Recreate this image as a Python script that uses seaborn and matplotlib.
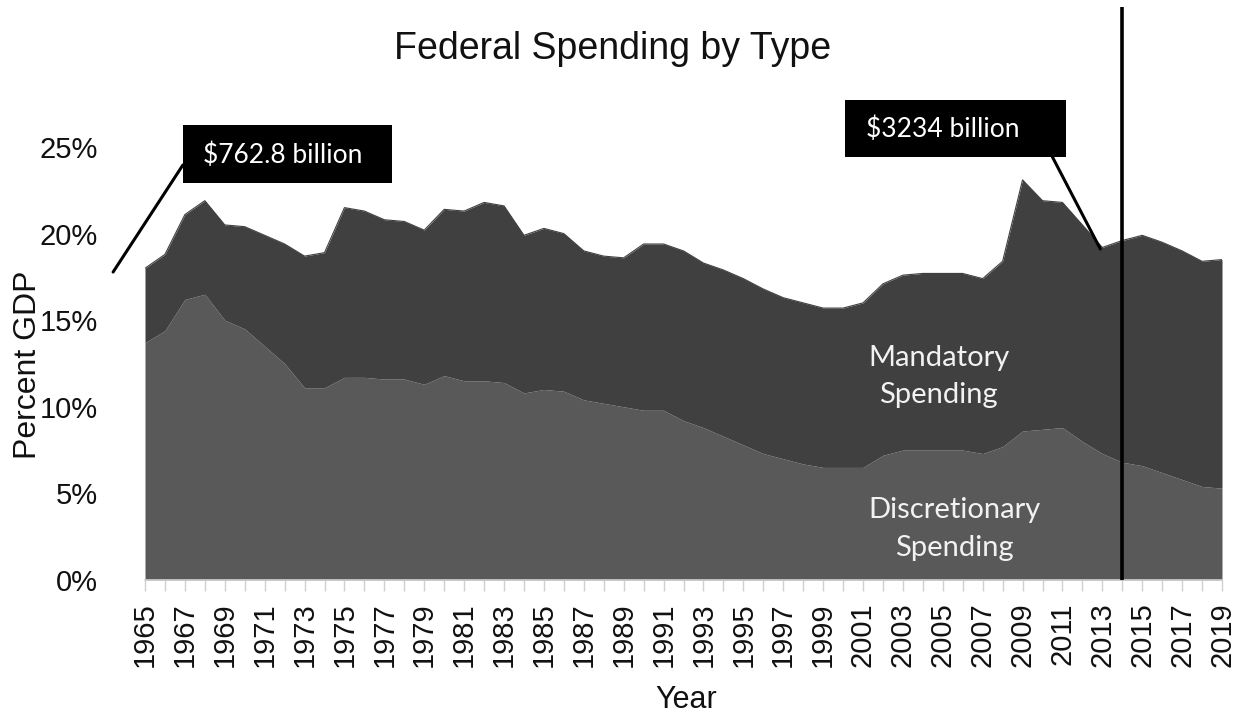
import matplotlib
matplotlib.use("Agg")
import matplotlib.pyplot as plt
from matplotlib.patches import Rectangle
from matplotlib.ticker import FuncFormatter, MultipleLocator, FixedLocator
import numpy as np
import pandas as pd
import seaborn as sns

# Federal outlays as a share of GDP, by spending type
years = list(range(1965, 2020))
discretionary = [
    13.7, 14.4, 16.2, 16.5, 15.0, 14.5, 13.5, 12.5, 11.1, 11.1,
    11.7, 11.7, 11.6, 11.6, 11.3, 11.8, 11.5, 11.5, 11.4, 10.8,
    11.0, 10.9, 10.4, 10.2, 10.0, 9.8, 9.8, 9.2, 8.8, 8.3,
    7.8, 7.3, 7.0, 6.7, 6.5, 6.5, 6.5, 7.2, 7.5, 7.5,
    7.5, 7.5, 7.3, 7.7, 8.6, 8.7, 8.8, 8.0, 7.3, 6.8,
    6.6, 6.2, 5.8, 5.4, 5.3,
]
mandatory = [
    4.3, 4.4, 4.9, 5.4, 5.5, 5.9, 6.4, 6.9, 7.6, 7.8,
    9.8, 9.6, 9.2, 9.1, 8.9, 9.6, 9.8, 10.3, 10.2, 9.1,
    9.3, 9.1, 8.6, 8.5, 8.6, 9.6, 9.6, 9.8, 9.5, 9.6,
    9.6, 9.5, 9.3, 9.3, 9.2, 9.2, 9.5, 9.9, 10.1, 10.2,
    10.2, 10.2, 10.1, 10.7, 14.5, 13.2, 13.0, 12.5, 11.9, 12.8,
    13.3, 13.3, 13.2, 13.0, 13.2,
]
labeled_years = years[::2]
marker_year = 2014
callouts = ["$762.8 billion", "$3234 billion"]

df = pd.DataFrame({"Year": years,
                   "Discretionary": discretionary,
                   "Mandatory": mandatory})
df["Total"] = df["Discretionary"] + df["Mandatory"]

sns.set_theme(style="white")
plt.rcParams["font.family"] = ["Liberation Sans", "DejaVu Sans"]

C_DISC = "#595959"
C_MAND = "#404040"

fig = plt.figure(figsize=(12.44, 7.17), dpi=100)
ax = fig.add_axes([145 / 1244, 1 - 580 / 717, (1222 - 145) / 1244, (580 - 147) / 717])

ax.stackplot(df["Year"], df["Discretionary"], df["Mandatory"],
             colors=[C_DISC, C_MAND], linewidth=0)
sns.lineplot(data=df, x="Year", y="Total", ax=ax, color=C_MAND, linewidth=0.8)

ax.set_xlim(1965, 2019)
ax.set_ylim(0, 25)
ax.set_xlabel("")
ax.set_ylabel("")

# axes styling
sns.despine(ax=ax, left=True, top=True, right=True)
ax.spines["bottom"].set_color("#d0d0d0")
ax.spines["bottom"].set_linewidth(1.2)
ax.xaxis.set_major_locator(FixedLocator(labeled_years))
ax.xaxis.set_minor_locator(MultipleLocator(1))
ax.xaxis.set_major_formatter(FuncFormatter(lambda v, _: f"{int(round(v))}"))
ax.tick_params(axis="x", which="both", bottom=True, length=8, width=1,
               color="#d0d0d0", direction="out", pad=8)
ax.tick_params(axis="x", which="major", labelsize=21, labelrotation=90,
               labelcolor="#111111")
ax.tick_params(axis="y", left=False, labelsize=21, pad=28, labelcolor="#111111")
ax.yaxis.set_major_locator(MultipleLocator(5))
ax.yaxis.set_major_formatter(FuncFormatter(lambda v, _: f"{v:.0f}%"))
ax.grid(False)

# vertical marker line
ax.vlines(marker_year, 0, 33.1, color="black", linewidth=2.6, clip_on=False, zorder=5)

# callout boxes with leader lines
box_font = ["Lato", "DejaVu Sans"]
ax.add_patch(Rectangle((1966.9, 22.92), 10.5, 3.35, facecolor="black",
                       edgecolor="none", clip_on=False, zorder=6))
ax.text(1971.9, 24.55, callouts[0], color="white", fontsize=19, family=box_font,
        ha="center", va="center", zorder=7, clip_on=False)
ax.plot([1966.9, 1963.4], [23.96, 17.78], color="black", linewidth=2.2,
        clip_on=False, zorder=6)

ax.add_patch(Rectangle((2000.1, 24.42), 11.1, 3.29, facecolor="black",
                       edgecolor="none", clip_on=False, zorder=6))
ax.text(2005.0, 26.05, callouts[1], color="white", fontsize=19, family=box_font,
        ha="center", va="center", zorder=7, clip_on=False)
ax.plot([2010.5, 2012.9], [24.42, 19.11], color="black", linewidth=2.2,
        clip_on=False, zorder=6)

# series labels inside the areas
ax.text(2004.8, 11.75, "Mandatory\nSpending", color="#f2f2f2", fontsize=21,
        family=box_font, ha="center", va="center", linespacing=1.55)
ax.text(2005.6, 2.95, "Discretionary\nSpending", color="#f2f2f2", fontsize=21,
        family=box_font, ha="center", va="center", linespacing=1.55)

# titles
fig.text(613 / 1244, 1 - 49 / 717, "Federal Spending by Type", fontsize=27,
         ha="center", va="center", color="#111111")
fig.text(28 / 1244, 1 - 365 / 717, "Percent GDP", fontsize=23, rotation=90,
         ha="center", va="center", color="#111111")
fig.text(686 / 1244, 1 - 700 / 717, "Year", fontsize=22,
         ha="center", va="center", color="#111111")

fig.savefig("out.png", dpi=100, facecolor="white")
